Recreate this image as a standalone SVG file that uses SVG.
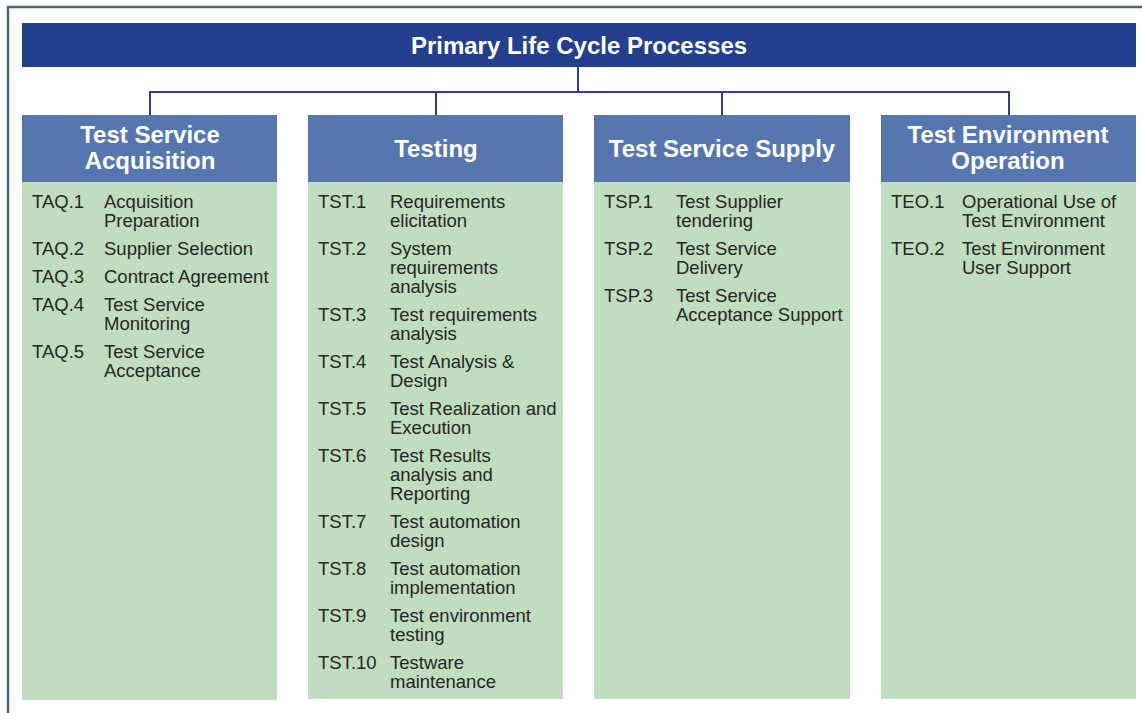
<svg xmlns="http://www.w3.org/2000/svg" width="1142" height="713" viewBox="0 0 1142 713">
  <style>
    .frame { fill: none; stroke: #50647f; stroke-width: 2.5; }
    .bar { fill: #233f8e; }
    .head { fill: #5676b0; }
    .body { fill: #c0ddc0; }
    .conn { fill: none; stroke: #2b3f94; stroke-width: 2; }
    .title { font-family: "Liberation Sans", Arial, sans-serif; font-weight: bold; font-size: 24px; fill: #ffffff; text-anchor: middle; }
    .htext { font-family: "Liberation Sans", Arial, sans-serif; font-weight: bold; font-size: 24px; fill: #ffffff; text-anchor: middle; }
    .item { font-family: "Liberation Sans", Arial, sans-serif; font-size: 18.5px; fill: #262626; }
  </style>
  <rect width="1142" height="713" fill="#ffffff"/>
  <!-- outer frame (top and left edges) -->
  <path class="frame" d="M8,713 V7 H1142"/>

  <g id="primary">
    <rect class="bar" x="22" y="23" width="1114" height="44"/>
    <text class="title" x="579" y="54">Primary Life Cycle Processes</text>
  </g>

  <g id="connectors">
    <path class="conn" d="M578,67 V92"/>
    <path class="conn" d="M150,116 V92 H1009 V116"/>
    <path class="conn" d="M436,92 V116"/>
    <path class="conn" d="M722,92 V116"/>
  </g>

  <g id="acquisition">
    <rect class="head" x="22" y="115" width="255" height="68"/>
    <rect class="body" x="22" y="182" width="255" height="518"/>
    <text class="htext" x="150" y="143">Test Service</text>
    <text class="htext" x="150" y="169">Acquisition</text>
    <g class="item">
      <text x="32" y="208">TAQ.1</text><text x="104" y="208">Acquisition</text><text x="104" y="227">Preparation</text>
      <text x="32" y="255">TAQ.2</text><text x="104" y="255">Supplier Selection</text>
      <text x="32" y="283">TAQ.3</text><text x="104" y="283">Contract Agreement</text>
      <text x="32" y="311">TAQ.4</text><text x="104" y="311">Test Service</text><text x="104" y="330">Monitoring</text>
      <text x="32" y="358">TAQ.5</text><text x="104" y="358">Test Service</text><text x="104" y="377">Acceptance</text>
    </g>
  </g>

  <g id="testing">
    <rect class="head" x="308" y="115" width="255" height="68"/>
    <rect class="body" x="308" y="182" width="255" height="517"/>
    <text class="htext" x="436" y="157">Testing</text>
    <g class="item">
      <text x="318" y="208">TST.1</text><text x="390" y="208">Requirements</text><text x="390" y="227">elicitation</text>
      <text x="318" y="255">TST.2</text><text x="390" y="255">System</text><text x="390" y="274">requirements</text><text x="390" y="293">analysis</text>
      <text x="318" y="321">TST.3</text><text x="390" y="321">Test requirements</text><text x="390" y="340">analysis</text>
      <text x="318" y="368">TST.4</text><text x="390" y="368">Test Analysis &amp;</text><text x="390" y="387">Design</text>
      <text x="318" y="415">TST.5</text><text x="390" y="415">Test Realization and</text><text x="390" y="434">Execution</text>
      <text x="318" y="462">TST.6</text><text x="390" y="462">Test Results</text><text x="390" y="481">analysis and</text><text x="390" y="500">Reporting</text>
      <text x="318" y="528">TST.7</text><text x="390" y="528">Test automation</text><text x="390" y="547">design</text>
      <text x="318" y="575">TST.8</text><text x="390" y="575">Test automation</text><text x="390" y="594">implementation</text>
      <text x="318" y="622">TST.9</text><text x="390" y="622">Test environment</text><text x="390" y="641">testing</text>
      <text x="318" y="669">TST.10</text><text x="390" y="669">Testware</text><text x="390" y="688">maintenance</text>
    </g>
  </g>

  <g id="supply">
    <rect class="head" x="594" y="115" width="256" height="68"/>
    <rect class="body" x="594" y="182" width="256" height="517"/>
    <text class="htext" x="722" y="157">Test Service Supply</text>
    <g class="item">
      <text x="604" y="208">TSP.1</text><text x="676" y="208">Test Supplier</text><text x="676" y="227">tendering</text>
      <text x="604" y="255">TSP.2</text><text x="676" y="255">Test Service</text><text x="676" y="274">Delivery</text>
      <text x="604" y="302">TSP.3</text><text x="676" y="302">Test Service</text><text x="676" y="321">Acceptance Support</text>
    </g>
  </g>

  <g id="operation">
    <rect class="head" x="881" y="115" width="255" height="68"/>
    <rect class="body" x="881" y="182" width="255" height="517"/>
    <text class="htext" x="1008" y="143">Test Environment</text>
    <text class="htext" x="1008" y="169">Operation</text>
    <g class="item">
      <text x="891" y="208">TEO.1</text><text x="962" y="208">Operational Use of</text><text x="962" y="227">Test Environment</text>
      <text x="891" y="255">TEO.2</text><text x="962" y="255">Test Environment</text><text x="962" y="274">User Support</text>
    </g>
  </g>
</svg>
